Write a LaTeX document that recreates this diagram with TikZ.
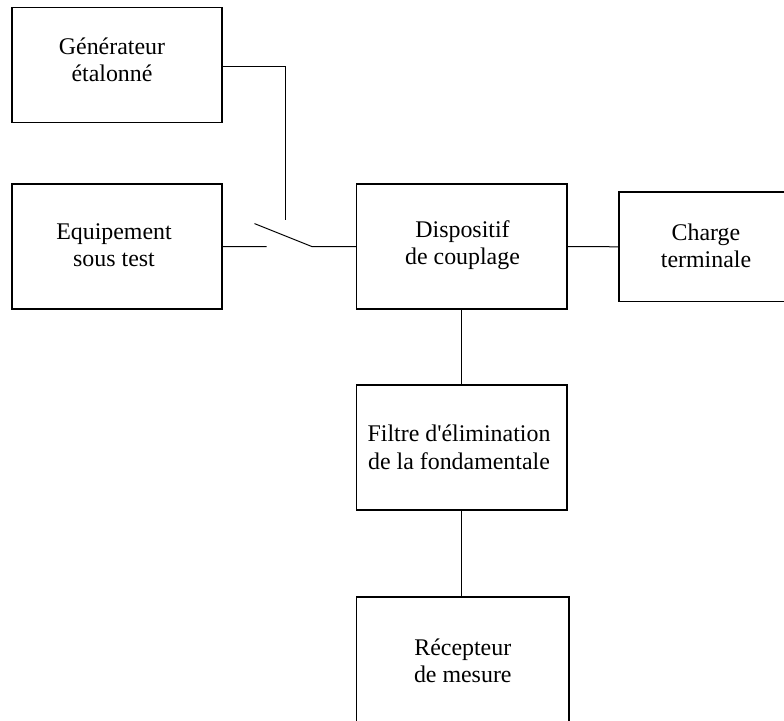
\documentclass[tikz,border=0pt]{standalone}
\usepackage{fontspec}
\setmainfont{Liberation Serif}[Ligatures=TeXOff]
\begin{document}
\begin{tikzpicture}[x=1pt,y=-1pt,
  box/.style={draw, line width=1.1pt, inner sep=0pt, rectangle},
  txt/.style={align=center, inner sep=0pt, font=\fontsize{23.9}{27.2}\selectfont},
  wire/.style={line width=1pt}]
\useasboundingbox (0,0) rectangle (784,720);
\clip (0,0) rectangle (784,720);
\fill[white] (0,0) rectangle (784,720);
% boxes
\node[box, minimum width=210pt, minimum height=115pt] (gen) at (117,64.7) {};
\node[box, minimum width=210pt, minimum height=125pt] (equ) at (117,246.5) {};
\node[box, minimum width=210.5pt, minimum height=125pt] (disp) at (461.75,246.5) {};
\node[box, minimum width=181pt, minimum height=109.6pt] (chg) at (709.5,246.8) {};
\node[box, minimum width=210.5pt, minimum height=125pt] (filt) at (461.75,447.5) {};
\node[box, minimum width=212.5pt, minimum height=148pt] (rec) at (462.75,671) {};
% texts
\node[txt] (tgen) at (112,59.5) {Générateur\\étalonné};
\node[txt] (tequ) at (114,245.5) {Equipement\\sous test};
\node[txt] (tdisp) at (462.5,245.5) {Dispositif\\de couplage};
\node[txt] (tchg) at (706,246) {Charge\\terminale};
\node[txt, font=\fontsize{23.9}{28.3}\selectfont] (tfilt) at (459,447.5) {Filtre d'élimination\\de la fondamentale};
\node[txt] (trec) at (462.8,661) {Récepteur\\de mesure};
% switch
\coordinate (swtop) at (285.5,219.5);
\coordinate (swa) at (266.5,246.6);
\coordinate (swb) at (254.5,223.6);
\coordinate (swc) at (312,246.6);
% connectors
\draw[wire] (gen.east |- 0,66.6) -| (swtop);
\draw[wire] (equ.east) -- (swa);
\draw[wire] (swb) -- (swc) -- (disp.west);
\draw[wire] (disp.east) -- (chg.west);
\draw[wire] (disp.south) -- (filt.north);
\draw[wire] (filt.south) -- (filt.south |- rec.north);
\end{tikzpicture}
\end{document}
